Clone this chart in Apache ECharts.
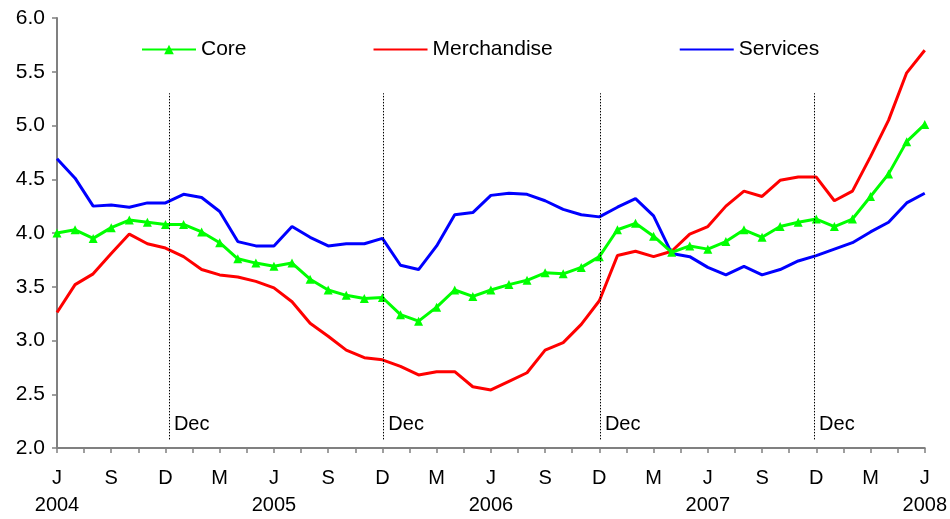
<!DOCTYPE html>
<html>
<head>
<meta charset="utf-8">
<script src="https://cdn.jsdelivr.net/npm/echarts@6/dist/echarts.min.js"></script>
<style>
  html, body { margin: 0; padding: 0; background: #fff; }
  #chart { width: 950px; height: 519px; }
</style>
</head>
<body>
<div id="chart"></div>
<script>
// monthly, June 2004 .. June 2008 (index 0..48)
const monthLetters = ["J", "S", "D", "M"]; // Jun, Sep, Dec, Mar
const yearLabels = ["2004", "2005", "2006", "2007", "2008"];

const core = [
  4.00, 4.03, 3.95, 4.05, 4.12, 4.10, 4.08, 4.08, 4.01, 3.91,
  3.76, 3.72, 3.69, 3.72, 3.57, 3.47, 3.42, 3.39, 3.40, 3.24,
  3.18, 3.31, 3.47, 3.41, 3.47, 3.52, 3.56, 3.63, 3.62, 3.68,
  3.78, 4.03, 4.09, 3.97, 3.82, 3.88, 3.85, 3.92, 4.03, 3.96,
  4.06, 4.10, 4.13, 4.06, 4.13, 4.34, 4.55, 4.85, 5.01
];
const merchandise = [
  3.26, 3.52, 3.62, 3.81, 3.99, 3.90, 3.86, 3.78, 3.66, 3.61,
  3.59, 3.55, 3.49, 3.36, 3.16, 3.04, 2.91, 2.84, 2.82, 2.76,
  2.68, 2.71, 2.71, 2.57, 2.54, 2.62, 2.70, 2.91, 2.98, 3.15,
  3.37, 3.79, 3.83, 3.78, 3.83, 3.99, 4.06, 4.25, 4.39, 4.34,
  4.49, 4.52, 4.52, 4.30, 4.39, 4.71, 5.05, 5.49, 5.70
];
const services = [
  4.69, 4.51, 4.25, 4.26, 4.24, 4.28, 4.28, 4.36, 4.33, 4.20,
  3.92, 3.88, 3.88, 4.06, 3.96, 3.88, 3.90, 3.90, 3.95, 3.70,
  3.66, 3.88, 4.17, 4.19, 4.35, 4.37, 4.36, 4.30, 4.22, 4.17,
  4.15, 4.24, 4.32, 4.16, 3.81, 3.78, 3.68, 3.61, 3.69, 3.61,
  3.66, 3.74, 3.79, 3.85, 3.91, 4.01, 4.10, 4.28, 4.37
];

// December markers (month index) and their label
const decX = [6.19, 18.05, 30.03, 41.88];
const decText = "Dec";

const font = "Liberation Sans, Arial, sans-serif";
const axisColor = "#808080";

function pairs(arr) {
  return arr.map((v, i) => [i, v]);
}

let myChart = echarts.init(document.getElementById("chart"));
let option = {
  animation: false,
  textStyle: { fontFamily: font },
  grid: { left: 57, right: 24, top: 18, bottom: 70 },
  legend: {
    data: [
      { name: "Core" },
      { name: "Merchandise", itemStyle: { opacity: 0 } },
      { name: "Services", itemStyle: { opacity: 0 } }
    ],
    left: 141,
    top: 39,
    padding: 0,
    itemWidth: 54,
    itemHeight: 12,
    itemGap: 126,
    textStyle: { fontSize: 21, color: "#000", fontFamily: font }
  },
  xAxis: {
    type: "value",
    min: 0,
    max: 48,
    interval: 1.5,
    splitLine: { show: false },
    axisLine: { lineStyle: { color: axisColor, width: 2 } },
    axisTick: { length: 5, lineStyle: { color: axisColor, width: 1.5 } },
    axisLabel: {
      color: "#000",
      fontSize: 20,
      fontFamily: font,
      margin: 17,
      lineHeight: 27,
      showMinLabel: true,
      showMaxLabel: true,
      formatter: function(v) {
        const k = Math.round(v * 2) / 2;
        if (k % 3 !== 0) return "";
        let s = monthLetters[(k / 3) % 4];
        if (k % 12 === 0) s += "\n" + yearLabels[k / 12];
        return s;
      }
    }
  },
  yAxis: {
    type: "value",
    min: 2,
    max: 6,
    interval: 0.5,
    splitLine: { show: false },
    axisLine: { show: true, lineStyle: { color: axisColor, width: 2 } },
    axisTick: { show: true, length: 5, lineStyle: { color: axisColor, width: 1.5 } },
    axisLabel: {
      color: "#000",
      fontSize: 21,
      fontFamily: font,
      margin: 12,
      formatter: v => v.toFixed(1)
    }
  },
  series: [
    {
      name: "Merchandise",
      type: "line",
      data: pairs(merchandise),
      symbol: "none",
      lineStyle: { color: "#ff0000", width: 3 },
      itemStyle: { color: "#ff0000" },
      z: 3
    },
    {
      name: "Services",
      type: "line",
      data: pairs(services),
      symbol: "none",
      lineStyle: { color: "#0000ff", width: 3 },
      itemStyle: { color: "#0000ff" },
      z: 3
    },
    {
      name: "Core",
      type: "line",
      data: pairs(core),
      symbol: "triangle",
      symbolSize: 9,
      lineStyle: { color: "#00ff00", width: 3 },
      itemStyle: { color: "#00ff00" },
      z: 4
    },
    {
      name: "dec",
      type: "scatter",
      data: decX.map(x => [x, 2.22]),
      symbolSize: 0,
      silent: true,
      itemStyle: { opacity: 1 },
      label: {
        show: true,
        position: "right",
        distance: 5,
        formatter: decText,
        color: "#000",
        opacity: 1,
        fontSize: 20,
        fontFamily: font
      },
      markLine: {
        silent: true,
        symbol: "none",
        label: { show: false },
        lineStyle: { color: "#000", type: [1.5, 1.5], width: 1 },
        data: decX.map(x => [{ coord: [x, 2.08] }, { coord: [x, 5.30] }])
      },
      z: 1
    }
  ]
};
myChart.setOption(option);
</script>
</body>
</html>
